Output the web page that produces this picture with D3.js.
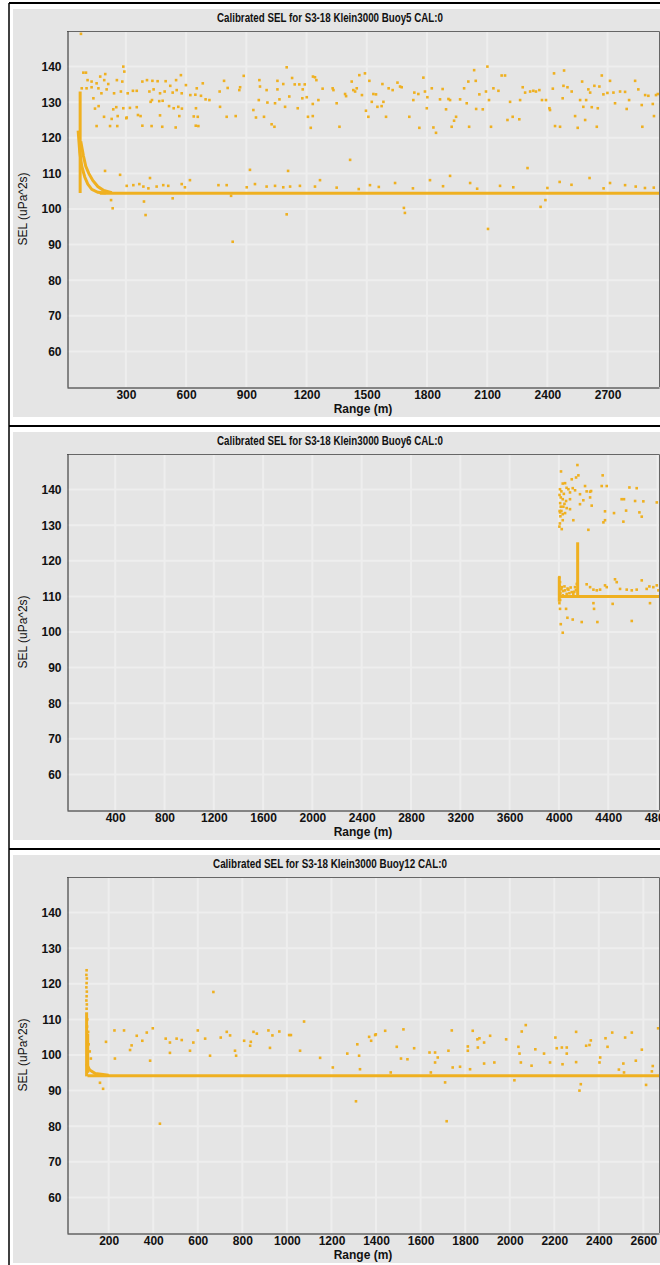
<!DOCTYPE html>
<html>
<head>
<meta charset="utf-8">
<script src="https://cdn.jsdelivr.net/npm/d3@7"></script>
<style>
  body { margin: 0; background: #fff; overflow: hidden; }
  text { font-family: "Liberation Sans", Arial, sans-serif; }
</style>
</head>
<body>
<script>
// titles + axes
const titles = [
    "Calibrated SEL for S3-18 Klein3000 Buoy5 CAL:0",
    "Calibrated SEL for S3-18 Klein3000 Buoy6 CAL:0",
    "Calibrated SEL for S3-18 Klein3000 Buoy12 CAL:0",
];
const xDomains = [[6.5, 2956], [9, 4812], [13, 2670]];
const xTicks = [
    [300, 600, 900, 1200, 1500, 1800, 2100, 2400, 2700],
    [400, 800, 1200, 1600, 2000, 2400, 2800, 3200, 3600, 4000, 4400, 4800],
    [200, 400, 600, 800, 1000, 1200, 1400, 1600, 1800, 2000, 2200, 2400, 2600],
];
const yDomain = [50, 150];
const yTicks = [60, 70, 80, 90, 100, 110, 120, 130, 140];
const xLabel = "Range (m)";
const yLabel = "SEL (uPa^2s)";

// Buoy5 : [range m, SEL]
const buoy5Points = [
    [76, 149.2], [287, 140.0], [292, 138.6], [1101, 139.8], [88, 138.3], [101, 138.3], [197, 137.9], [574, 137.6],
    [887, 137.4], [1232, 137.2], [1242, 137.0],
    [109, 136.2], [129, 135.8], [154, 135.3], [172, 137.2], [192, 136.2], [212, 135.1], [255, 136.2], [282, 135.8],
    [382, 135.8], [405, 136.2], [432, 136.0], [458, 135.9], [498, 135.9], [521, 134.6], [550, 136.2], [599, 134.8],
    [653, 133.9], [683, 135.3], [789, 136.0], [807, 134.0], [869, 134.2], [965, 136.2], [968, 134.4], [1055, 136.0],
    [1084, 135.1], [1128, 136.8], [1141, 135.0], [1164, 135.0], [1191, 135.0], [1249, 136.2], [1280, 133.8],
    [80, 133.9], [104, 133.9], [129, 134.2], [163, 133.9], [178, 132.5], [204, 133.6], [241, 132.5], [275, 133.0],
    [309, 132.5], [335, 133.2], [354, 133.2], [417, 133.0], [438, 133.6], [470, 132.5], [493, 133.0], [533, 132.7],
    [553, 133.4], [578, 132.5], [621, 132.0], [646, 132.1], [674, 131.8], [697, 130.8], [716, 130.6], [767, 133.0],
    [865, 133.4], [1001, 133.4], [1055, 133.6], [1181, 133.6], [1259, 130.6],
    [138, 131.1], [146, 128.2], [164, 128.9], [237, 128.0], [252, 128.6], [287, 128.3], [304, 125.7], [320, 128.4],
    [354, 128.6], [423, 130.1], [430, 130.6], [466, 130.3], [483, 130.4], [515, 128.9], [538, 128.3], [561, 128.7],
    [579, 128.2], [649, 128.3], [769, 128.7], [962, 130.6], [1005, 129.9], [1043, 129.7], [1065, 130.8], [1093, 128.7],
    [1114, 131.6], [1156, 128.3], [1179, 131.1], [1201, 131.4], [1231, 129.5],
    [191, 125.9], [229, 125.3], [259, 126.1], [302, 125.5], [360, 126.4], [373, 126.1], [470, 126.3], [566, 126.1],
    [638, 126.0], [658, 125.9], [802, 125.9], [847, 126.1], [935, 127.8], [948, 125.7], [988, 125.9], [1207, 125.9],
    [1231, 126.1],
    [154, 123.3], [221, 123.3], [257, 123.3], [382, 123.4], [428, 123.3], [481, 123.1], [548, 122.9], [648, 123.4],
    [661, 123.3], [1026, 123.8], [1040, 123.1], [1221, 122.8],
    [1330, 133.9], [1334, 133.4], [1350, 129.7], [1364, 123.1], [1392, 132.3], [1397, 131.7], [1425, 135.8], [1433, 133.4],
    [1442, 133.0], [1450, 133.9], [1463, 137.6], [1476, 132.0], [1491, 138.1], [1496, 127.6], [1508, 125.9], [1513, 136.0],
    [1525, 130.1], [1533, 132.3], [1546, 132.2], [1553, 128.7], [1574, 128.9], [1578, 135.1], [1583, 130.1], [1596, 125.9],
    [1609, 133.9], [1629, 133.4], [1653, 135.5], [1666, 134.4], [1674, 134.2], [1712, 125.9], [1732, 130.6], [1737, 132.7],
    [1757, 132.3], [1762, 122.8], [1782, 136.9], [1790, 133.0], [1799, 128.3], [1802, 131.4], [1824, 133.9], [1832, 122.9],
    [1845, 121.4], [1865, 130.8], [1878, 133.7], [1895, 128.0], [1907, 130.9], [1915, 130.6], [1923, 123.1], [1935, 124.8],
    [1945, 125.9], [1965, 130.8], [1985, 133.9], [1998, 129.7], [2006, 135.8], [2010, 123.1], [2035, 139.0], [2043, 136.0],
    [2045, 128.1], [2061, 132.2], [2078, 128.0], [2094, 133.0], [2101, 140.0], [2109, 130.6], [2119, 123.1], [2131, 133.9],
    [2156, 133.2], [2172, 137.5], [2189, 137.5], [2201, 125.0], [2214, 130.1], [2227, 125.9], [2260, 125.2], [2264, 130.6],
    [2277, 134.2], [2289, 132.7], [2314, 133.0], [2330, 133.2], [2343, 133.0], [2360, 133.4], [2373, 130.6], [2393, 130.6],
    [2410, 128.3], [2413, 127.8], [2427, 133.8], [2433, 138.1], [2438, 123.3], [2463, 123.1], [2476, 131.1], [2480, 134.6],
    [2483, 138.9], [2500, 134.2], [2521, 133.0], [2538, 126.1], [2551, 122.8], [2563, 130.6], [2573, 135.8], [2579, 128.7],
    [2588, 125.0], [2593, 130.6], [2604, 133.6], [2613, 132.7], [2621, 128.6], [2634, 134.6], [2646, 123.1], [2651, 128.3],
    [2659, 134.4], [2671, 137.5], [2679, 132.2], [2699, 132.6], [2712, 136.0], [2729, 132.7], [2737, 129.7], [2762, 133.0],
    [2787, 132.9], [2795, 128.1], [2807, 130.6], [2837, 136.0], [2853, 133.6], [2870, 129.2], [2873, 123.1], [2887, 132.0],
    [2903, 131.8], [2925, 129.5], [2931, 126.1], [2941, 132.0], [2950, 132.3],
    [304, 106.5], [337, 106.7], [367, 107.0], [387, 106.3], [412, 105.8], [453, 106.3], [486, 106.7], [511, 106.5],
    [578, 107.0], [594, 106.1], [619, 108.1], [761, 106.7], [802, 106.7], [902, 106.1], [943, 107.0], [1001, 106.3],
    [1043, 106.5], [1084, 106.1], [1118, 106.3], [1167, 106.5], [1242, 106.3],
    [196, 110.7], [271, 109.6], [420, 108.7], [918, 111.0], [1108, 110.7], [1417, 113.8], [1267, 108.1], [1516, 106.7],
    [1641, 107.3], [1815, 108.1], [1915, 109.3], [2015, 107.3], [2164, 106.5], [2301, 111.5], [2461, 107.6], [2610, 108.7],
    [2787, 106.7], [2886, 105.9], [2712, 107.3],
    [1350, 106.0], [1460, 105.6], [1560, 106.2], [1730, 105.8], [1880, 106.4], [2050, 105.7], [2230, 106.1], [2400, 105.9],
    [2520, 106.8], [2680, 105.8], [2840, 106.3], [2930, 106.0],
    [226, 102.5], [234, 100.2], [390, 102.1], [398, 98.3], [533, 103.0], [832, 90.8], [824, 103.7], [1101, 98.5],
    [2366, 100.6], [2390, 102.5], [1685, 100.3], [1690, 98.9], [2104, 94.4],
];
// dense streaks of Buoy5 (too many points to list one by one)
const buoy5Traces = [
    [[62, 122], [70, 116], [80, 112], [95, 109], [110, 107], [130, 105.5], [160, 104.7], [200, 104.5]],
    [[75, 119], [88, 115], [100, 112], [115, 110], [135, 108], [160, 106.3], [190, 105.2], [230, 104.6]],
    [[72, 104.5], [72, 133]],
    [[170, 104.4], [2960, 104.4]],
];

// Buoy6
const buoy6Points = [
    [4150, 146.9], [4017, 145.1], [4031, 141.7], [4050, 141.8], [4009, 140.1], [4077, 140.1], [4112, 140.4], [4090, 139.2],
    [4131, 139.8], [4158, 144.0], [4139, 143.4], [4104, 142.9], [4171, 138.7], [4212, 141.0], [4225, 139.5], [4253, 139.4],
    [4261, 139.6], [4015, 137.8], [4031, 137.3], [4058, 136.8], [4090, 137.3], [4171, 135.9], [4198, 137.0], [4253, 137.8],
    [4266, 135.5], [4015, 135.2], [4036, 135.2], [4063, 134.8], [4090, 134.5], [4009, 133.6], [4031, 133.1], [4050, 133.4],
    [4031, 131.4], [4117, 131.4], [4004, 129.6], [4023, 128.9], [4239, 128.7], [4355, 144.0], [4347, 141.0], [4388, 141.0],
    [4509, 137.3], [4528, 137.3], [4572, 140.6], [4618, 136.8], [4631, 140.4], [4653, 133.6], [4672, 132.4], [4685, 136.7],
    [4794, 136.4], [4374, 133.9], [4447, 133.4], [4545, 134.1], [4523, 131.0], [4374, 131.4], [4361, 130.8],
    [4005, 138.5], [4010, 136.2], [4006, 134.0], [4012, 132.5], [4008, 130.5], [4020, 139.5], [4040, 138.8], [4062, 140.5],
    [4020, 134.0], [4045, 136.0],
    [4004, 115.4], [4009, 114.0], [4023, 112.6], [4050, 111.7], [4077, 111.9], [4104, 111.2], [4131, 112.6], [4145, 113.5],
    [4117, 110.7], [4063, 110.7], [4031, 110.3], [4004, 108.1], [4009, 106.5], [4058, 106.5], [4069, 104.0], [4112, 103.5],
    [4185, 102.8], [4312, 102.8], [4015, 102.2], [4031, 99.8], [4225, 113.4], [4253, 112.6], [4280, 111.9], [4307, 111.7],
    [4334, 111.9], [4374, 113.1], [4388, 112.6], [4455, 114.8], [4469, 114.0], [4496, 112.1], [4550, 111.9], [4591, 111.7],
    [4631, 111.9], [4672, 114.5], [4712, 112.1], [4734, 112.8], [4766, 112.6], [4794, 113.1], [4807, 111.7], [4280, 108.1],
    [4285, 106.5], [4436, 107.9], [4591, 103.1], [4739, 108.1],
    [4012, 111.0], [4020, 112.0], [4035, 111.5], [4045, 112.8], [4070, 112.2], [4085, 110.9], [4095, 112.5], [4125, 111.3],
    [4138, 111.8], [4006, 113.0], [4006, 110.5], [4010, 109.0],
];
const buoy6Traces = [
    [[4000, 110.0], [4820, 110.0]],
    [[4152, 110.0], [4152, 125.2]],
    [[4003, 108.5], [4003, 115.5]],
];

// Buoy12
const buoy12Points = [
    [101, 123.8], [100, 122.5], [102, 121.5], [101, 120.2], [100, 119.0], [102, 117.8], [101, 116.5], [100, 115.3],
    [102, 114.2], [101, 113.0], [103, 108.0], [108, 106.5], [104, 110.0], [110, 103.0], [115, 101.0], [120, 99.0],
    [670, 117.7], [1077, 109.4], [188, 103.7], [226, 106.9], [269, 106.9], [326, 105.4], [371, 106.3], [398, 107.5],
    [351, 104.0], [303, 102.7], [456, 104.6], [475, 103.5], [505, 104.6], [528, 104.2], [580, 103.5], [600, 106.9],
    [633, 104.6], [703, 104.9], [730, 106.5], [745, 105.5], [808, 104.0], [838, 103.7], [850, 106.5], [865, 106.0],
    [917, 106.9], [935, 105.5], [966, 106.6],
    [296, 101.4], [475, 100.6], [565, 101.2], [655, 99.8], [767, 101.2], [835, 102.6], [924, 102.0], [1059, 101.2],
    [1149, 99.2], [386, 98.4], [228, 99.0], [430, 80.7], [161, 92.2], [175, 90.5], [772, 99.8], [1010, 105.6], [1018, 105.6],
    [1206, 96.5], [1271, 100.4], [1310, 87.0], [1316, 103.0], [1324, 99.8], [1328, 96.0], [1369, 105.1], [1378, 104.0],
    [1396, 105.6], [1399, 105.8], [1441, 106.8], [1466, 95.1], [1493, 102.3], [1512, 99.0], [1523, 107.2], [1541, 98.8],
    [1571, 101.9], [1640, 100.7], [1646, 95.1], [1665, 100.7], [1665, 97.9], [1677, 99.3], [1710, 92.3], [1717, 81.4],
    [1725, 101.2], [1740, 106.9], [1744, 96.5], [1777, 96.7], [1812, 102.4], [1812, 101.2], [1822, 96.0], [1834, 106.8],
    [1855, 104.4], [1857, 102.1], [1864, 104.7], [1885, 103.5], [1885, 97.6], [1912, 105.4], [1931, 97.9], [1984, 104.4],
    [2021, 92.9], [2039, 102.3], [2044, 100.4], [2050, 97.9], [2054, 106.6], [2072, 108.4], [2098, 97.0], [2115, 101.6],
    [2154, 100.4], [2181, 97.9], [2205, 104.9], [2211, 101.9], [2234, 102.1], [2237, 97.4], [2256, 102.1], [2256, 100.4],
    [2298, 106.5], [2298, 98.0], [2313, 90.0], [2319, 91.8], [2343, 102.6], [2358, 102.8], [2364, 104.1], [2403, 97.9],
    [2406, 99.3], [2430, 104.7], [2439, 102.3], [2460, 106.3], [2490, 95.9], [2510, 97.6], [2513, 95.1], [2518, 104.9],
    [2548, 106.3], [2566, 98.4], [2593, 101.5], [2612, 91.6], [2638, 95.4], [2642, 96.9], [2666, 107.5],
];
const buoy12Traces = [
    [[101, 94], [101, 112]],
    [[106, 95], [106, 106]],
    [[100, 97.5], [115, 95.8], [140, 94.8], [200, 94.3]],
    [[105, 94.2], [2675, 94.2]],
];

const config = {
    width: 660,
    height: 1265,
    panelStep: 423,
    firstTop: 3,
    plotLeft: 67,
    plotRight: 659,
    plotTop: 28,
    plotBottom: 384,
    dot: "#efb020",
    bg: "#e5e5e5",
    grid: "#eeeeee",
};

const panels = [
    { title: titles[0], titleLen: 226, xDomain: xDomains[0], ticks: xTicks[0], points: buoy5Points, traces: buoy5Traces },
    { title: titles[1], titleLen: 226, xDomain: xDomains[1], ticks: xTicks[1], points: buoy6Points, traces: buoy6Traces },
    { title: titles[2], titleLen: 234, xDomain: xDomains[2], ticks: xTicks[2], points: buoy12Points, traces: buoy12Traces },
];

const svg = d3.select("body").append("svg")
    .attr("width", config.width)
    .attr("height", config.height);

panels.forEach((p, i) => drawPanel(p, i));

function drawPanel(p, i) {
    const top = config.firstTop + i * config.panelStep;
    const g = svg.append("g");

    // frame
    g.append("rect")
        .attr("x", 13).attr("y", top + 6)
        .attr("width", config.width).attr("height", 408)
        .attr("fill", config.bg);
    g.append("line")
        .attr("x1", 9).attr("x2", config.width)
        .attr("y1", top).attr("y2", top)
        .attr("stroke", "#000").attr("stroke-width", 2);
    g.append("line")
        .attr("x1", 9).attr("x2", 9)
        .attr("y1", top).attr("y2", top + config.panelStep)
        .attr("stroke", "#000").attr("stroke-width", 1.5);

    const x = d3.scaleLinear().domain(p.xDomain).range([config.plotLeft, config.plotRight]);
    const y = d3.scaleLinear().domain(yDomain).range([top + config.plotBottom, top + config.plotTop]);

    // grid
    g.append("g").selectAll("line").data(p.ticks).join("line")
        .attr("x1", d => x(d)).attr("x2", d => x(d))
        .attr("y1", y(yDomain[0])).attr("y2", y(yDomain[1]))
        .attr("stroke", config.grid).attr("stroke-width", 2);
    g.append("g").selectAll("line").data(yTicks).join("line")
        .attr("x1", config.plotLeft).attr("x2", config.plotRight)
        .attr("y1", d => y(d)).attr("y2", d => y(d))
        .attr("stroke", config.grid).attr("stroke-width", 2);

    // plot border (top / right)
    g.append("path")
        .attr("d", `M${config.plotLeft},${y(yDomain[1]) + 0.5}H${config.plotRight + 0.5}V${y(yDomain[0])}`)
        .attr("fill", "none").attr("stroke", "#666").attr("stroke-width", 1);

    // data
    const clipId = "clip" + i;
    g.append("clipPath").attr("id", clipId).append("rect")
        .attr("x", config.plotLeft).attr("y", y(yDomain[1]))
        .attr("width", config.plotRight - config.plotLeft)
        .attr("height", y(yDomain[0]) - y(yDomain[1]));
    const data = g.append("g").attr("clip-path", `url(#${clipId})`);

    const line = d3.line().x(d => x(d[0])).y(d => y(d[1]));
    data.selectAll("path").data(p.traces).join("path")
        .attr("d", line)
        .attr("fill", "none")
        .attr("stroke", config.dot)
        .attr("stroke-width", 3);

    data.selectAll("rect").data(p.points).join("rect")
        .attr("x", d => x(d[0]) - 1.3)
        .attr("y", d => y(d[1]) - 1.3)
        .attr("width", 2.6).attr("height", 2.6)
        .attr("fill", config.dot);

    // axes, plain integers (no thousands comma)
    const fmt = d3.format("d");
    const xAxis = d3.axisBottom(x).tickValues(p.ticks).tickFormat(fmt).tickSize(0).tickPadding(3).tickSizeOuter(0);
    const yAxis = d3.axisLeft(y).tickValues(yTicks).tickFormat(fmt).tickSize(0).tickPadding(6).tickSizeOuter(0);

    const gx = g.append("g")
        .attr("transform", `translate(0,${y(yDomain[0]) + 0.5})`)
        .call(xAxis);
    const gy = g.append("g")
        .attr("transform", `translate(${config.plotLeft + 0.5},0)`)
        .call(yAxis);
    [gx, gy].forEach(a => {
        a.select(".domain").attr("stroke", "#222");
        a.selectAll("text")
            .attr("fill", "#111")
            .style("font-size", "12px")
            .style("font-weight", "bold")
            .style("font-family", '"Liberation Sans", Arial, sans-serif');
    });

    // titles
    g.append("text")
        .attr("x", 330).attr("y", top + 18.5)
        .attr("text-anchor", "middle")
        .attr("textLength", p.titleLen)
        .attr("lengthAdjust", "spacingAndGlyphs")
        .style("font-size", "12px")
        .style("font-weight", "bold")
        .attr("fill", "#111")
        .text(p.title);

    g.append("text")
        .attr("x", (config.plotLeft + config.plotRight) / 2)
        .attr("y", top + 410)
        .attr("text-anchor", "middle")
        .style("font-size", "12px")
        .style("font-weight", "bold")
        .attr("fill", "#111")
        .text(xLabel);

    g.append("text")
        .attr("transform", `translate(27,${(y(yDomain[0]) + y(yDomain[1])) / 2}) rotate(-90)`)
        .attr("text-anchor", "middle")
        .style("font-size", "12px")
        .attr("fill", "#111")
        .text(yLabel);
}
</script>
</body>
</html>
